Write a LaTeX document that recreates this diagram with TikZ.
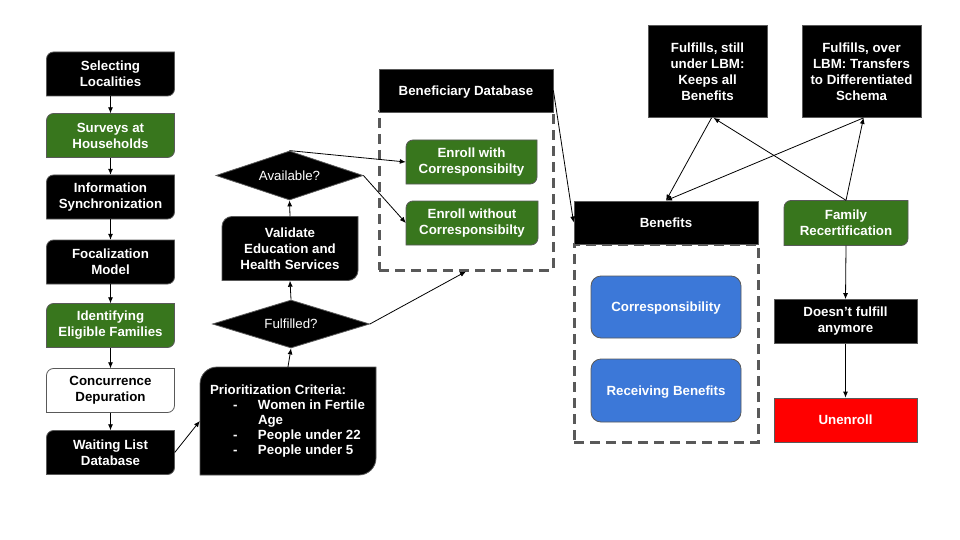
\documentclass[tikz,border=0pt]{standalone}
\usepackage{fontspec}
\setmainfont{Liberation Sans}
\usetikzlibrary{arrows.meta,shapes.geometric}

\definecolor{bordergray}{HTML}{595959}
\definecolor{dashgray}{HTML}{595959}
\definecolor{leafgreen}{HTML}{38761D}
\definecolor{softblue}{HTML}{3C78D8}
\definecolor{alertred}{HTML}{FF0000}

\tikzset{
  edge/.style={draw=black, line width=0.8pt, -{Latex[length=6pt,width=5pt]}},
  boxedge/.style={draw=bordergray, line width=0.8pt},
  boxtext/.style={font=\bfseries\fontsize{13.3}{16}\selectfont, align=center, inner sep=0pt},
  plainbox/.style={boxtext, draw=bordergray, line width=0.8pt, fill=black, text=white},
  oneline/.style={text depth=0pt},
  decision/.style={diamond, aspect=3, inner sep=0pt, fill=black, draw=bordergray,
    line width=0.8pt, text=white, font=\fontsize{13.3}{16}\selectfont},
  groupframe/.style={draw=dashgray, line width=3pt, dash pattern=on 10pt off 6pt},
  softbox/.style={boxtext, rounded corners=10pt, fill=softblue, draw=bordergray,
    line width=0.8pt, text=white},
}

% Box with rounded top-left and bottom-right corners:
% name, centre x, centre y, width, height, radius, fill, text colour, text
\newcommand{\rdbox}[9]{%
  \path[boxedge, fill=#7]
    ({#2-#4/2+#6},{#3-#5/2}) -- ({#2+#4/2},{#3-#5/2}) -- ({#2+#4/2},{#3+#5/2-#6})
    .. controls ({#2+#4/2},{#3+#5/2-0.448*#6}) and ({#2+#4/2-0.448*#6},{#3+#5/2}) .. ({#2+#4/2-#6},{#3+#5/2})
    -- ({#2-#4/2},{#3+#5/2}) -- ({#2-#4/2},{#3-#5/2+#6})
    .. controls ({#2-#4/2},{#3-#5/2+0.448*#6}) and ({#2-#4/2+0.448*#6},{#3-#5/2}) .. ({#2-#4/2+#6},{#3-#5/2})
    -- cycle;
  \node[boxtext, text=#8, minimum width=#4pt, minimum height=#5pt] (#1) at (#2,#3) {#9};
}

\begin{document}
\begin{tikzpicture}[x=1pt, y=-1pt]
\useasboundingbox (0,0) rectangle (960,540);

% ---- intake pipeline ----
\rdbox{select}{110.5}{74}{128}{44}{7}{black}{white}{Selecting\\Localities}
\rdbox{survey}{110.5}{135.5}{128}{44}{7}{leafgreen}{white}{Surveys at\\Households}
\rdbox{sync}{110.5}{197}{128}{44}{7}{black}{white}{Information\\Synchronization}
\rdbox{focal}{110.5}{262}{128}{44}{7}{black}{white}{Focalization\\Model}
\rdbox{eligible}{110.5}{325.5}{128}{44}{7}{leafgreen}{white}{Identifying\\Eligible Families}
\rdbox{depur}{110.5}{390.5}{128}{44}{7}{white}{black}{Concurrence\\Depuration}
\rdbox{waiting}{110.5}{452.5}{128}{44}{7}{black}{white}{Waiting List\\Database}

% ---- prioritization and checks ----
\rdbox{prio}{288}{421}{176}{108}{17}{black}{white}{\raisebox{-2.5pt}{\parbox{156pt}{\raggedright
  \fontsize{13.3}{15}\selectfont
  Prioritization Criteria:\\
  \hspace*{23pt}\makebox[25pt][l]{-}Women in Fertile\\
  \hspace*{48pt}Age\\
  \hspace*{23pt}\makebox[25pt][l]{-}People under 22\\
  \hspace*{23pt}\makebox[25pt][l]{-}People under 5}}}
\node[decision, minimum width=157pt, minimum height=48pt] (fulfilled) at (291,324) {Fulfilled?};
\rdbox{validate}{290}{248.5}{136}{64}{10}{black}{white}{Validate\\Education and\\Health Services}
\node[decision, minimum width=147pt, minimum height=49pt] (available) at (289.5,175.5) {Available?};

% ---- enrollment group ----
\node[groupframe, minimum width=174pt, minimum height=158pt] (enrollgroup) at (466,191) {};
\node[plainbox, oneline, minimum width=174pt, minimum height=43pt] (bendb) at (466,90.5) {Beneficiary Database};
\rdbox{enrollwith}{471.5}{162}{131}{44}{7}{leafgreen}{white}{Enroll with\\Corresponsibilty}
\rdbox{enrollwo}{472}{223}{132}{44}{7}{leafgreen}{white}{Enroll without\\Corresponsibilty}

% ---- benefits group ----
\node[groupframe, minimum width=184pt, minimum height=198pt] (benefitgroup) at (666,343) {};
\node[plainbox, oneline, minimum width=184pt, minimum height=43pt] (benefits) at (666,222.5) {Benefits};
\node[softbox, oneline, minimum width=150pt, minimum height=62pt] (corresp) at (666,307) {Corresponsibility};
\node[softbox, oneline, minimum width=150pt, minimum height=63pt] (receiving) at (666,390.5) {Receiving Benefits};

% ---- recertification ----
\node[plainbox, minimum width=119pt, minimum height=92pt] (keeps) at (707.5,71.5) {Fulfills, still\\under LBM:\\Keeps all\\Benefits};
\node[plainbox, minimum width=119pt, minimum height=92pt] (transfer) at (861.5,71.5) {Fulfills, over\\LBM: Transfers\\to Differentiated\\Schema};
\rdbox{recert}{846}{223}{124}{45}{7}{leafgreen}{white}{Family\\Recertification}
\node[plainbox, minimum width=143pt, minimum height=44pt] (nolonger) at (845.5,321.5) {Doesn’t fulfill\\anymore};
\node[plainbox, oneline, fill=alertred, minimum width=143pt, minimum height=44pt] (unenroll) at (845.5,420) {Unenroll};

% ---- connectors ----
\draw[edge] (select) -- (survey);
\draw[edge] (survey) -- (sync);
\draw[edge] (sync) -- (focal);
\draw[edge] (focal) -- (eligible);
\draw[edge] (eligible) -- (depur);
\draw[edge] (depur) -- (waiting);
\draw[edge] (waiting.east) -- (prio.west);
\draw[edge] (prio.north) -- (fulfilled.south);
\draw[edge] (fulfilled.north) -- (validate.south);
\draw[edge] (validate.north) -- (available.south);
\draw[edge] (available.north) -- (enrollwith.west);
\draw[edge] (available.east) -- (enrollwo.west);
\draw[edge] (fulfilled.east) -- (enrollgroup.south);
\draw[edge] (bendb.east) -- (benefits.west);
\draw[edge] ([xshift=4pt]keeps.south) -- (benefits.north);
\draw[edge] ([xshift=2pt]transfer.south) -- (benefits.north);
\draw[edge] (recert.north) -- ([xshift=6pt]keeps.south);
\draw[edge] (recert.north) -- ([xshift=2pt]transfer.south);
\draw[edge] (recert.south) -- (nolonger.north);
\draw[edge] (nolonger.south) -- (unenroll.north);
\end{tikzpicture}
\end{document}
